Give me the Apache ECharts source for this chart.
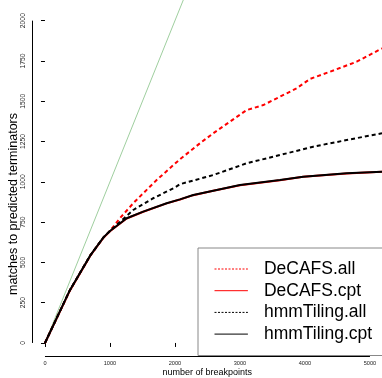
<!DOCTYPE html>
<html>
<head>
<meta charset="utf-8">
<script src="https://cdn.jsdelivr.net/npm/echarts@6/dist/echarts.min.js"></script>
<style>
  html, body { margin: 0; padding: 0; background: #fff; }
  #main { width: 382px; height: 378px; }
</style>
</head>
<body>
<div id="main"></div>
<script>
// tick labels
var xTicks = [0, 1000, 2000, 3000, 4000, 5000];
var yTicks = [0, 250, 500, 750, 1000, 1250, 1500, 1750, 2000];

// series values, [breakpoints, matches]
var decafsAll = [[0, 0], [385, 329], [700, 545], [900, 655], [1000, 695], [1153, 774], [1358, 867],
  [1512, 929], [1718, 1011], [2077, 1140], [2384, 1239], [2589, 1301], [2846, 1373], [3103, 1445],
  [3358, 1476], [3615, 1528], [3872, 1580], [4077, 1638], [4384, 1683], [4795, 1745], [5185, 1828]];
var decafsCpt = [[0, 0], [385, 326], [700, 543], [900, 653], [1000, 693], [1257, 772], [1512, 814],
  [1872, 866], [2077, 890], [2281, 917], [2589, 944], [3000, 979], [3615, 1010], [3973, 1031],
  [4641, 1052], [5185, 1062]];
var hmmAll = [[0, 0], [385, 329], [700, 545], [900, 655], [1000, 695], [1358, 825], [1666, 898],
  [2000, 965], [2077, 985], [2589, 1042], [3103, 1115], [3615, 1166], [4127, 1218], [4641, 1259],
  [5185, 1301]];
var hmmCpt = [[0, 0], [385, 329], [700, 545], [900, 655], [1000, 695], [1257, 774], [1512, 815],
  [1872, 867], [2077, 891], [2281, 918], [2589, 945], [3000, 980], [3615, 1011], [3973, 1032],
  [4641, 1053], [5185, 1063]];
// y = x reference line
var diagonal = [[0, 0], [2300, 2300]];

var names = ['DeCAFS.all', 'DeCAFS.cpt', 'hmmTiling.all', 'hmmTiling.cpt'];

var xMin = -192, xMax = 5185, yMin = -84, yMax = 2128;
var font = 'Liberation Sans, Arial, Helvetica, sans-serif';
var plain = function(v) { return String(v); };

var myChart = echarts.init(document.getElementById('main'));

// legend samples: thin lines, fine dashes for the ".all" entries
var legendItems = names.map(function(n) {
  return { name: n, lineStyle: { width: 1, type: /\.all$/.test(n) ? [2, 1.5] : 'solid' } };
});

var option = {
  animation: false,
  backgroundColor: '#fff',
  grid: { left: 32.5, right: 0, top: 0, bottom: 21.5, containLabel: false, outerBoundsMode: 'none' },
  xAxis: {
    type: 'value', min: xMin, max: xMax,
    name: 'number of breakpoints', nameLocation: 'middle', nameGap: 12, nameMoveOverlap: false,
    nameTextStyle: { fontFamily: font, fontSize: 9, color: '#000' },
    axisLine: { show: false },
    splitLine: { show: false },
    axisTick: { show: true, customValues: xTicks, length: 4, lineStyle: { color: '#000' } },
    axisLabel: { customValues: xTicks, formatter: plain, fontFamily: font, fontSize: 5.6, color: '#222', margin: 4 }
  },
  yAxis: {
    type: 'value', min: yMin, max: yMax,
    axisLine: { show: false },
    splitLine: { show: false },
    axisTick: { show: true, customValues: yTicks, length: 4, lineStyle: { color: '#000' } },
    axisLabel: { customValues: yTicks, formatter: plain, rotate: 90, fontFamily: font, fontSize: 6.8, color: '#222', margin: 6 }
  },
  graphic: [{
    type: 'text', x: 13.5, y: 204, rotation: Math.PI / 2,
    style: { text: 'matches to predicted terminators', fontFamily: font, fontSize: 12.5,
      fill: '#000', align: 'center', verticalAlign: 'middle' }
  }],
  legend: {
    data: legendItems, orient: 'vertical', left: 198, top: 248,
    padding: [12, 40, 12.4, 16],
    borderColor: '#888', borderWidth: 1, backgroundColor: '#fff',
    itemWidth: 33.4, itemHeight: 18, itemGap: 3.7,
    itemStyle: { opacity: 0 },
    lineStyle: { width: 1 },
    textStyle: { fontFamily: font, fontSize: 17.5, color: '#000', lineHeight: 18, padding: [0, 0, 0, 11] }
  },
  series: [
    { type: 'line', data: diagonal, symbol: 'none', silent: true,
      lineStyle: { color: '#9fcf9f', width: 1 } },
    { name: 'DeCAFS.cpt', type: 'line', data: decafsCpt, symbol: 'none',
      lineStyle: { color: '#ff0000', width: 2, type: 'solid' }, itemStyle: { color: '#ff0000' } },
    { name: 'DeCAFS.all', type: 'line', data: decafsAll, symbol: 'none',
      lineStyle: { color: '#ff0000', width: 2, type: [4, 3] }, itemStyle: { color: '#ff0000' } },
    { name: 'hmmTiling.all', type: 'line', data: hmmAll, symbol: 'none',
      lineStyle: { color: '#000', width: 2, type: [4, 3] }, itemStyle: { color: '#000' } },
    { name: 'hmmTiling.cpt', type: 'line', data: hmmCpt, symbol: 'none',
      lineStyle: { color: '#000', width: 2, type: 'solid' }, itemStyle: { color: '#000' } },
    // axis lines drawn R-style, from first to last tick
    { type: 'line', data: [[xTicks[0], yMin], [xTicks[xTicks.length - 1], yMin]], symbol: 'none',
      silent: true, clip: false, lineStyle: { color: '#000', width: 1 } },
    { type: 'line', data: [[xMin, yTicks[0]], [xMin, yTicks[yTicks.length - 1]]], symbol: 'none',
      silent: true, clip: false, lineStyle: { color: '#000', width: 1 } }
  ]
};

myChart.setOption(option);
</script>
</body>
</html>
